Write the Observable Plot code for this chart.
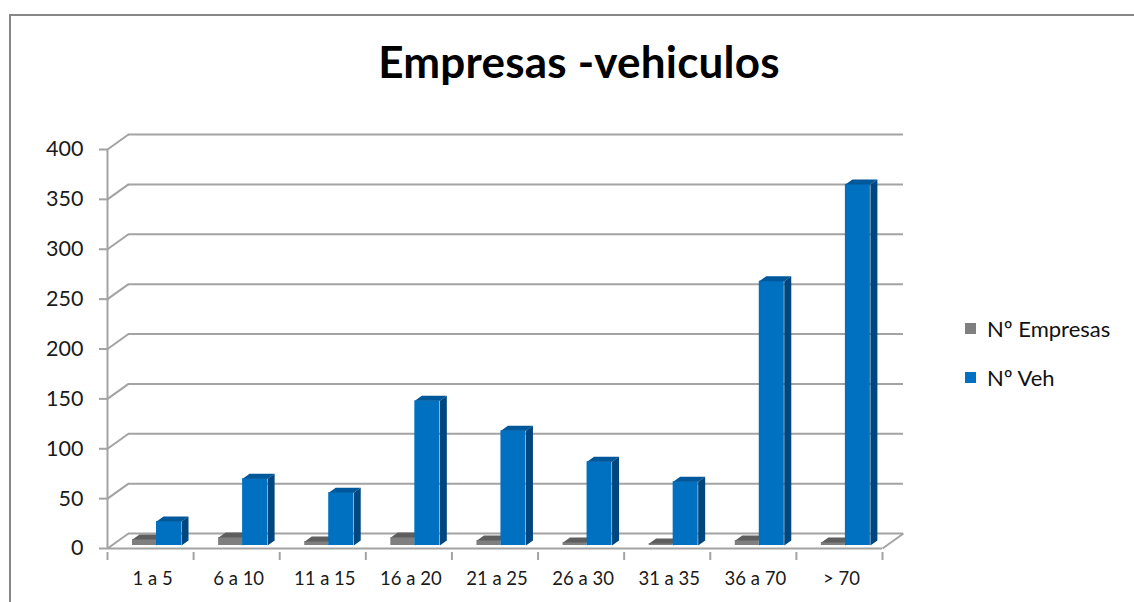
<!DOCTYPE html>
<html>
<head>
<meta charset="utf-8">
<script src="https://cdn.jsdelivr.net/npm/d3@7"></script>
<script src="https://cdn.jsdelivr.net/npm/@observablehq/plot@0.6"></script>
<style>
  html, body { margin: 0; padding: 0; background: #fff; }
  #wrap { position: relative; width: 1134px; height: 602px; overflow: hidden; background: #fff; font-family: Lato, "Open Sans", sans-serif; }
  #frame { position: absolute; left: 9px; top: 14px; width: 1200px; height: 700px; border-left: 2px solid #878787; border-top: 2px solid #878787; }
  #title { position: absolute; left: 0; width: 1158px; top: 35px; text-align: center; font: bold 44px Lato, sans-serif; color: #000; line-height: 52px; letter-spacing: 0.2px; }
  #legend { position: absolute; left: 965px; top: 315px; font: 22px Lato, sans-serif; color: #111; }
  #legend .item { display: flex; align-items: center; height: 26px; margin-bottom: 23px; }
  #legend .sw { width: 11px; height: 11px; margin-right: 11px; }
  #chart { position: absolute; left: 0; top: 0; }
</style>
</head>
<body>
<div id="wrap">
  <div id="frame"></div>
  <div id="chart"></div>
  <div id="title">Empresas -vehiculos</div>
  <div id="legend"></div>
</div>
<script>
// ---- data ----
const categories = ["1 a 5", "6 a 10", "11 a 15", "16 a 20", "21 a 25", "26 a 30", "31 a 35", "36 a 70", "> 70"];
const empresas = [6, 8, 4, 8, 5, 3, 2, 5, 3];
const vehiculos = [24, 67, 53, 145, 115, 84, 64, 265, 362];
const yTicks = [0, 50, 100, 150, 200, 250, 300, 350, 400];
const seriesNames = ["Nº Empresas", "Nº Veh"];

// ---- layout / style ----
const W = 1134, H = 602;
const mL = 107, mR = 252, mT = 149, mB = 54;
const kx = categories.length / (W - mL - mR);      // data units per px (x)
const ky = 400 / (H - mT - mB);                      // data units per px (y)
const wallDX = 21 * kx, wallDY = 15 * ky;            // depth of the 3D wall
const barDX = 7 * kx, barDY = 5 * ky;                // depth of each bar
const grid = "#a3a3a3";

const colors = {
  gray: {front: "#7f7f7f", top: "#5e5e5e", side: "#4a4a4a"},
  blue: {front: "#0070c0", top: "#00579a", side: "#004780"}
};

// bar x-offsets inside each category band (in px from band start)
const slots = {gray: [25, 49], blue: [49, 74]};

function fronts(values, slot) {
  return values.map((v, i) => ({i, v, x1: i + slot[0] * kx, x2: i + slot[1] * kx}));
}
function tops(values, slot) {
  const pts = [];
  values.forEach((v, i) => {
    const a = i + slot[0] * kx, b = i + slot[1] * kx;
    pts.push({id: i, x: a, y: v}, {id: i, x: b, y: v}, {id: i, x: b + barDX, y: v + barDY}, {id: i, x: a + barDX, y: v + barDY});
  });
  return pts;
}
function sides(values, slot) {
  const pts = [];
  values.forEach((v, i) => {
    const b = i + slot[1] * kx;
    pts.push({id: i, x: b, y: 0}, {id: i, x: b, y: v}, {id: i, x: b + barDX, y: v + barDY}, {id: i, x: b + barDX, y: barDY});
  });
  return pts;
}

const barMarks = (values, slot, c) => [
  Plot.rect(fronts(values, slot), {x1: "x1", x2: "x2", y1: 0, y2: "v", fill: c.front, dy: -3}),
  Plot.line(tops(values, slot), {x: "x", y: "y", z: "id", fill: c.top, stroke: "none", dy: -3}),
  Plot.line(sides(values, slot), {x: "x", y: "y", z: "id", fill: c.side, stroke: "none", dy: -3})
];

const boundaries = d3.range(categories.length + 1);

const plot = Plot.plot({
  width: W, height: H,
  marginLeft: mL, marginRight: mR, marginTop: mT, marginBottom: mB,
  x: {type: "linear", domain: [0, categories.length], axis: null},
  y: {type: "linear", domain: [0, 400], axis: null},
  style: {fontFamily: "Lato, sans-serif", background: "transparent", overflow: "visible"},
  marks: [
    // back wall gridlines
    Plot.ruleY(yTicks, {dx: 21, dy: -15, stroke: grid, strokeWidth: 2}),
    // side wall diagonals
    Plot.link(yTicks, {x1: 0, y1: d => d, x2: wallDX, y2: d => d + wallDY, stroke: grid, strokeWidth: 2}),
    // floor: front edge and right diagonal
    Plot.ruleY([0], {stroke: grid, strokeWidth: 2}),
    Plot.link([0], {x1: categories.length, y1: 0, x2: categories.length + wallDX, y2: wallDY, stroke: grid, strokeWidth: 2}),
    // y axis line
    Plot.ruleX([0], {y1: 0, y2: 400, stroke: grid, strokeWidth: 2}),
    Plot.axisY({ticks: yTicks, tickSize: 8, tickPadding: 16, fontSize: 21.5, stroke: grid, strokeWidth: 2, color: "#1a1a1a", tickFormat: d => String(d)}),
    // x ticks at band boundaries
    Plot.ruleX(boundaries, {dy: 4, stroke: grid, strokeWidth: 2, y1: 0, y2: -8 * ky}),
    // x labels
    Plot.text(categories, {x: (d, i) => i + 0.5, y: 0, dy: 31, dx: 2, text: d => d, fontSize: 18.5, fill: "#1a1a1a"}),
    // bars
    ...barMarks(empresas, slots.gray, colors.gray),
    ...barMarks(vehiculos, slots.blue, colors.blue)
  ]
});
document.getElementById("chart").appendChild(plot);

// legend
const leg = document.getElementById("legend");
[[seriesNames[0], colors.gray.front], [seriesNames[1], colors.blue.front]].forEach(([name, col]) => {
  const item = document.createElement("div");
  item.className = "item";
  const sw = document.createElement("span");
  sw.className = "sw";
  sw.style.background = col;
  const t = document.createElement("span");
  t.textContent = name;
  item.appendChild(sw); item.appendChild(t);
  leg.appendChild(item);
});
</script>
</body>
</html>
